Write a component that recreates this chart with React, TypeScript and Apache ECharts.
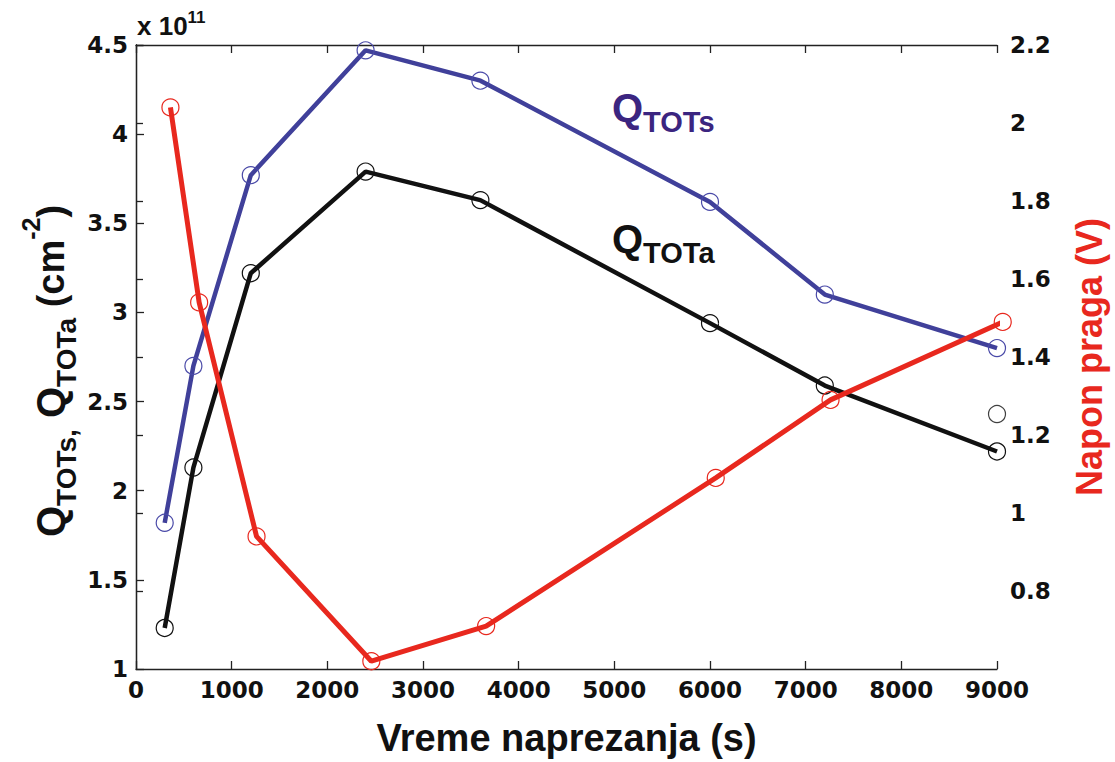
import React, { useEffect, useRef } from "react";
import * as echarts from "echarts";

// ---- data ----
const timeS = [300, 600, 1200, 2400, 3600, 6000, 7200, 9000];
const qTOTs = [1.82, 2.7, 3.77, 4.47, 4.3, 3.62, 3.1, 2.8];
const qTOTa = [1.23, 2.13, 3.22, 3.79, 3.63, 2.94, 2.59, 2.22];
const timeV = [360, 660, 1260, 2460, 3660, 6060, 7260, 9060];
const naponPraga = [2.04, 1.54, 0.94, 0.62, 0.71, 1.09, 1.29, 1.49];
const strayX = [9000];
const strayY = [2.43];

const xAxisRange = { min: 0, max: 9000, interval: 1000 };
const leftAxisRange = { min: 1, max: 4.5, interval: 0.5 };
const rightAxisRange = { min: 0.6, max: 2.2, interval: 0.2 };

const xTitle = "Vreme naprezanja (s)";
const rightTitle = "Napon praga (V)";

const AR = "'Liberation Sans', Arial, Helvetica, sans-serif";
const TICKF = "'DejaVu Sans', sans-serif";

const BLUE = "#40409a";
const RED = "#e8281e";
const BLACK = "#111111";
const PURPLE = "#3b2580";

type Piece = { text: string; size: number; base: number };

function textRun(pieces: Piece[], color: string) {
  const ctx = document.createElement("canvas").getContext("2d") as CanvasRenderingContext2D;
  let x = 0;
  return pieces.map((p) => {
    ctx.font = `bold ${p.size}px ${AR}`;
    const el = {
      type: "text",
      x,
      y: p.base - 0.33 * p.size,
      style: {
        text: p.text,
        fill: color,
        fontFamily: AR,
        fontWeight: "bold",
        fontSize: p.size,
        verticalAlign: "middle",
        align: "left",
      },
    };
    x += ctx.measureText(p.text).width;
    return el;
  });
}

const leftTitlePieces: Piece[] = [
  { text: "Q", size: 40, base: 0 },
  { text: "TOTs,", size: 28, base: 12 },
  { text: " Q", size: 40, base: 0 },
  { text: "TOTa", size: 28, base: 12 },
  { text: " (cm", size: 38, base: 0 },
  { text: "-2", size: 25, base: -25 },
  { text: ")", size: 38, base: 0 },
];
const qsPieces: Piece[] = [
  { text: "Q", size: 40, base: 0 },
  { text: "TOTs", size: 29, base: 11 },
];
const qaPieces: Piece[] = [
  { text: "Q", size: 40, base: 0 },
  { text: "TOTa", size: 29, base: 11 },
];
const expPieces: Piece[] = [
  { text: "x 10", size: 26, base: 0 },
  { text: "11", size: 17, base: -12 },
];

const axisLineStyle = { color: "#222", width: 1.3 };
const tickLabel = {
  fontFamily: TICKF,
  fontWeight: "bold" as const,
  fontSize: 23,
  color: BLACK,
};

function marker(color: string) {
  return {
    symbol: "circle",
    symbolSize: 17,
    itemStyle: { color: "rgba(0,0,0,0)", borderColor: color, borderWidth: 1.2 },
  };
}

export default function App() {
  const ref = useRef<HTMLDivElement>(null);
  useEffect(() => {
    if (!ref.current) return;
    const chart = echarts.init(ref.current, undefined, { renderer: "svg" });
    const option: any = {
      animation: false,
      backgroundColor: "#ffffff",
      grid: { left: 136, right: 113, top: 45, bottom: 93 },
      xAxis: [
        {
          type: "value",
          ...xAxisRange,
          position: "bottom",
          axisLine: { show: true, lineStyle: axisLineStyle },
          axisTick: { show: true, inside: true, length: 8, lineStyle: axisLineStyle },
          axisLabel: { ...tickLabel, margin: 9, formatter: (v: number) => String(v) },
          splitLine: { show: false },
          name: xTitle,
          nameLocation: "middle",
          nameGap: 50,
          nameTextStyle: { fontFamily: AR, fontWeight: "bold", fontSize: 38, color: BLACK },
        },
        {
          type: "value",
          ...xAxisRange,
          position: "top",
          axisLine: { show: true, lineStyle: axisLineStyle },
          axisTick: { show: true, inside: true, length: 8, lineStyle: axisLineStyle },
          axisLabel: { show: false },
          splitLine: { show: false },
        },
      ],
      yAxis: [
        {
          type: "value",
          ...leftAxisRange,
          position: "left",
          axisLine: { show: true, lineStyle: axisLineStyle },
          axisTick: { show: true, inside: true, length: 8, lineStyle: axisLineStyle },
          axisLabel: { ...tickLabel, margin: 8 },
          splitLine: { show: false },
        },
        {
          type: "value",
          ...rightAxisRange,
          position: "right",
          axisLine: { show: true, lineStyle: axisLineStyle },
          axisTick: { show: true, inside: false, length: 7, lineStyle: axisLineStyle },
          axisLabel: { ...tickLabel, margin: 13, showMinLabel: false },
          splitLine: { show: false },
          name: rightTitle,
          nameLocation: "middle",
          nameRotate: 90,
          nameGap: 74,
          nameTextStyle: { fontFamily: AR, fontWeight: "bold", fontSize: 36, color: RED },
        },
      ],
      series: [
        {
          type: "line",
          name: "QTOTs",
          xAxisIndex: 0,
          yAxisIndex: 0,
          data: timeS.map((t, i) => [t, qTOTs[i]]),
          lineStyle: { color: BLUE, width: 4.5 },
          ...marker("#4a4aa8"),
          z: 3,
        },
        {
          type: "line",
          name: "QTOTa",
          xAxisIndex: 0,
          yAxisIndex: 0,
          data: timeS.map((t, i) => [t, qTOTa[i]]),
          lineStyle: { color: BLACK, width: 4.5 },
          ...marker(BLACK),
          z: 3,
        },
        {
          type: "line",
          name: "Napon praga",
          xAxisIndex: 0,
          yAxisIndex: 1,
          clip: false,
          data: timeV.map((t, i) => [t, naponPraga[i]]),
          lineStyle: { color: RED, width: 5 },
          ...marker(RED),
          z: 4,
        },
        {
          type: "scatter",
          xAxisIndex: 0,
          yAxisIndex: 0,
          clip: false,
          data: strayX.map((t, i) => [t, strayY[i]]),
          ...marker(BLACK),
        },
      ],
      graphic: [
        { type: "group", x: 64, y: 537, rotation: Math.PI / 2, children: textRun(leftTitlePieces, BLACK) },
        { type: "group", x: 612, y: 121, children: textRun(qsPieces, PURPLE) },
        { type: "group", x: 612, y: 252, children: textRun(qaPieces, BLACK) },
        { type: "group", x: 137, y: 35, children: textRun(expPieces, BLACK) },
      ],
    };
    chart.setOption(option);
    return () => chart.dispose();
  }, []);
  return (
    <div
      ref={ref}
      style={{ position: "absolute", left: 0, top: 0, width: 1115, height: 762, background: "#fff" }}
    />
  );
}
